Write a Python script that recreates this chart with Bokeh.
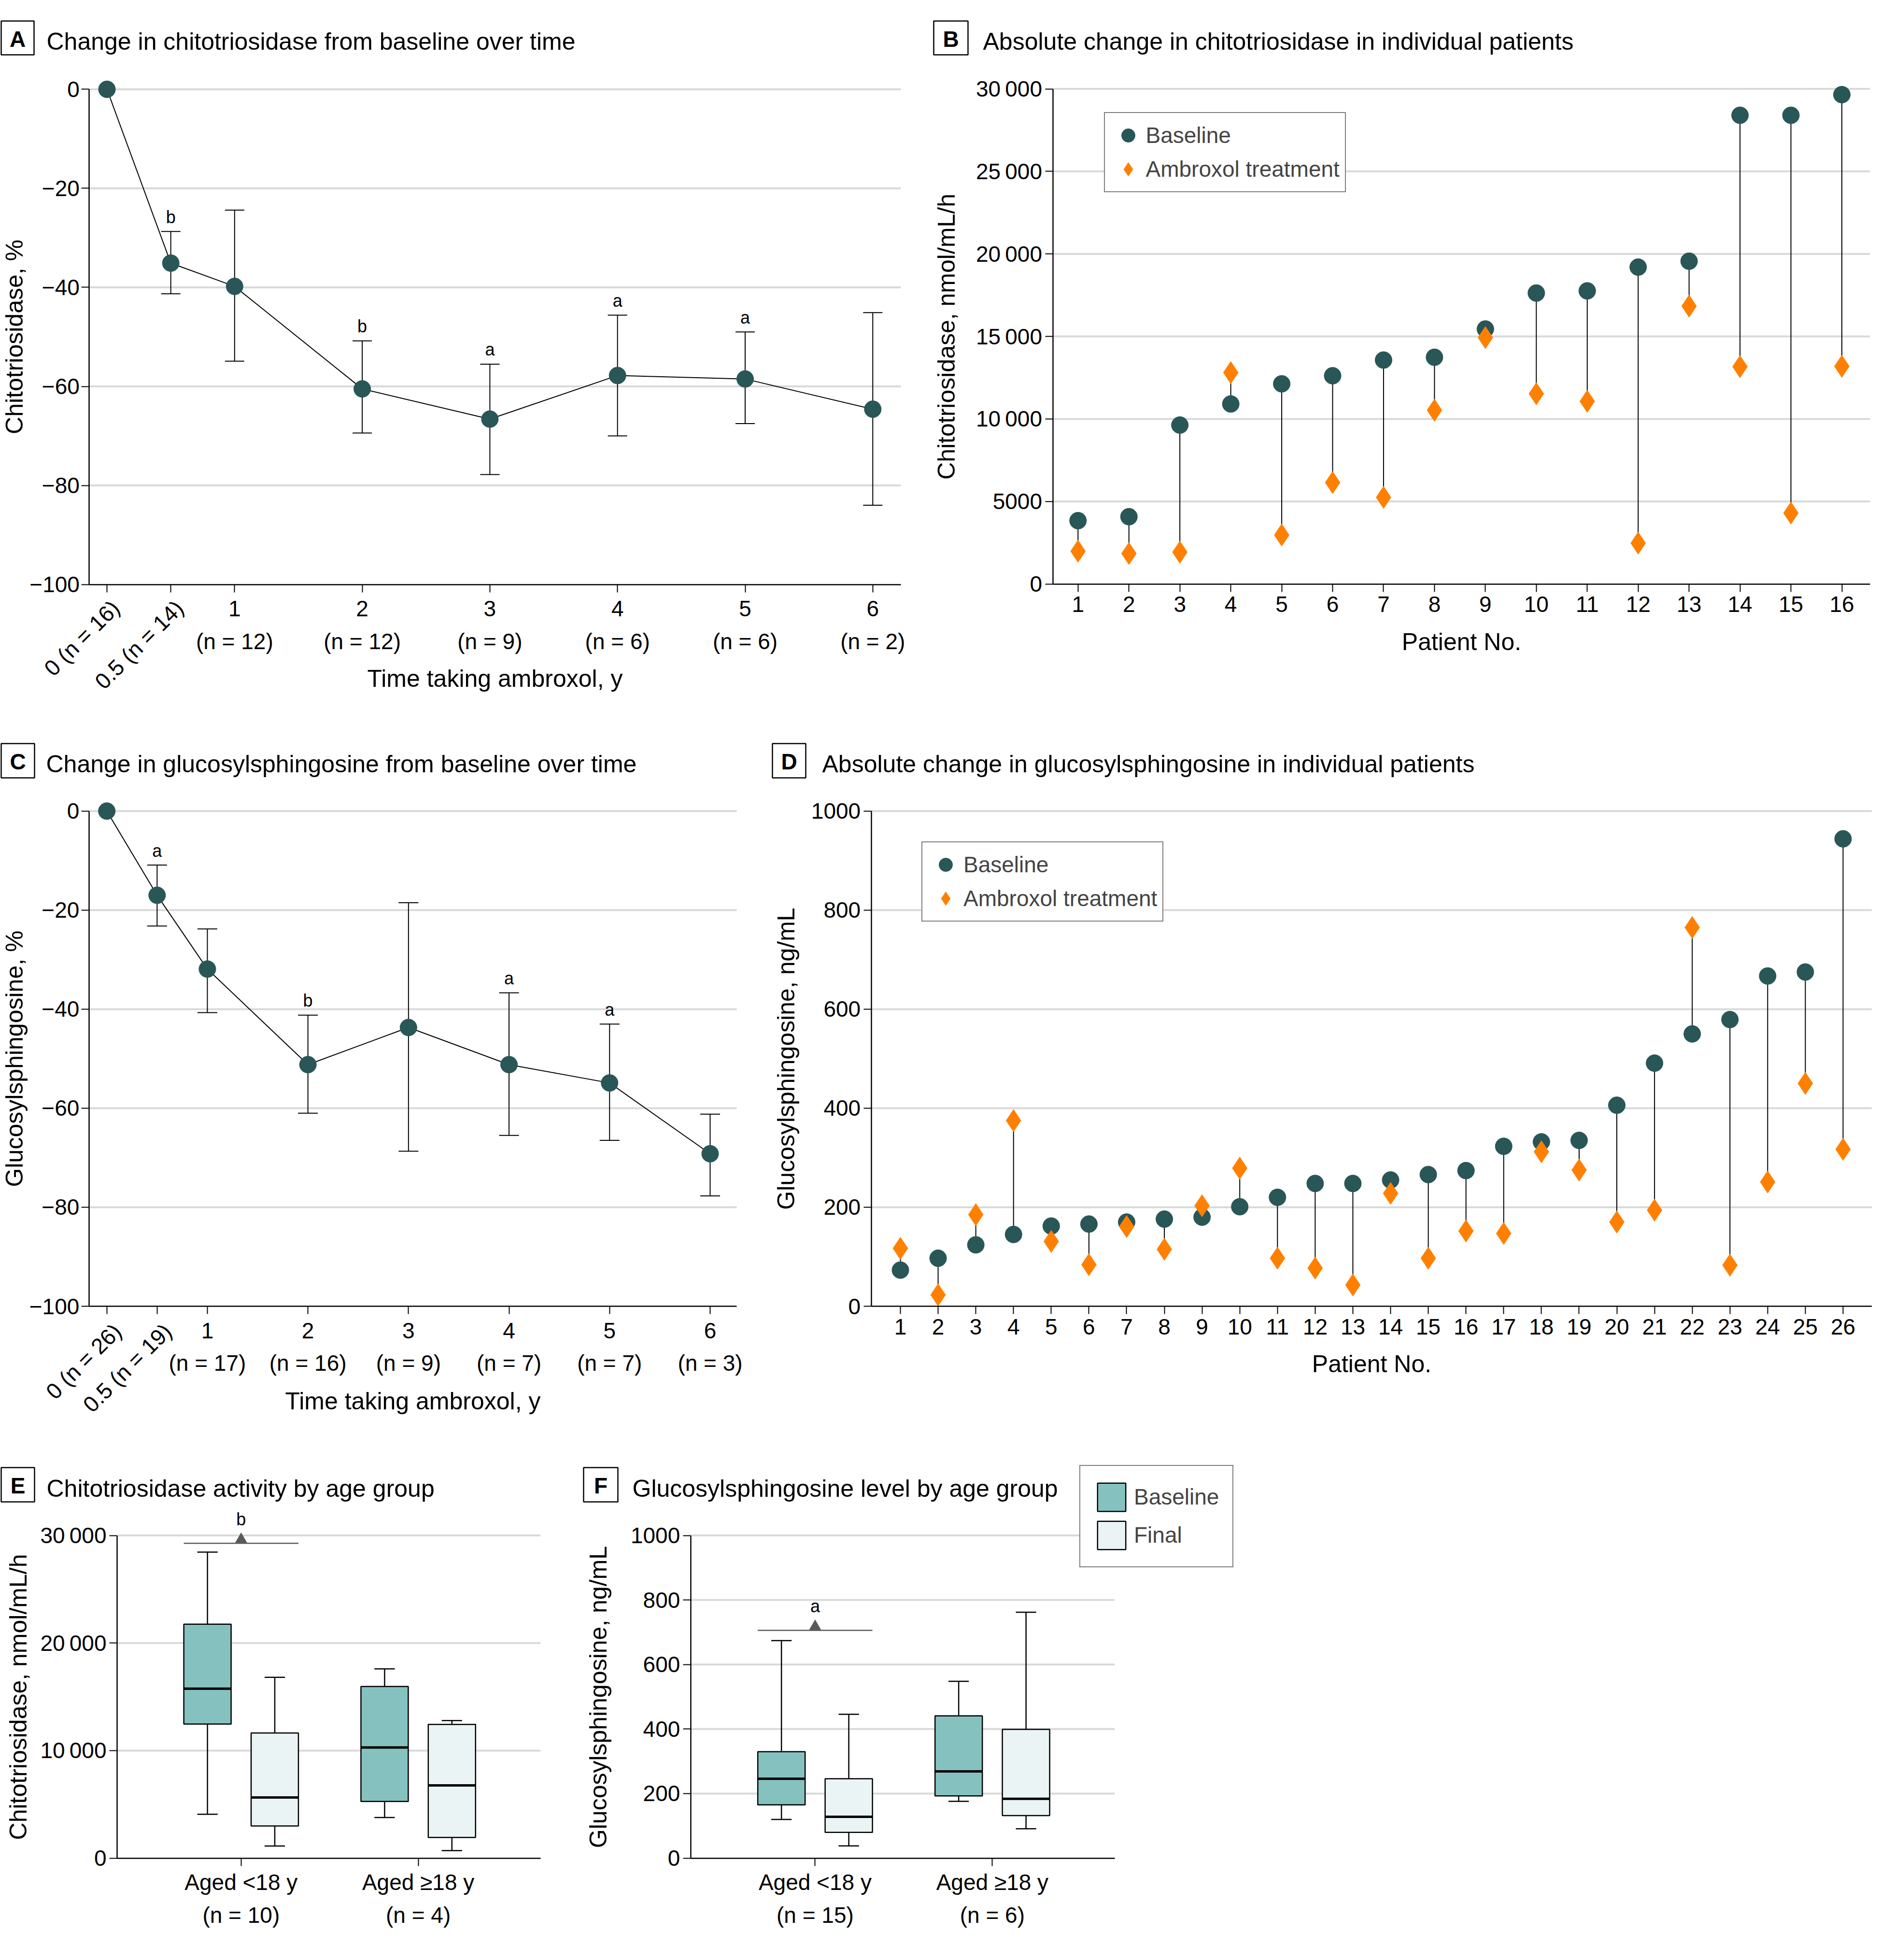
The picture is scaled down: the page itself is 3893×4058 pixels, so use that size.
import math
from bokeh.plotting import figure
from bokeh.models import (FixedTicker, Label, Legend, LegendItem, Range1d, BoxAnnotation)
from bokeh.layouts import column, row
from bokeh.core.properties import value
from bokeh.embed import file_html
from bokeh.resources import INLINE

FONT = "Liberation Sans"
DOT = "#295656"
ORANGE = "#ff8000"
TEAL = "#85c2bf"
PALE = "#eaf4f4"
GRID = "#d9d9d9"
SIGCOL = "#5a5a5a"

# ---------------- data ----------------
# Panel A: change in chitotriosidase (%), mean with error bars
a_time = [0, 0.5, 1, 2, 3, 4, 5, 6]
a_n = [16, 14, 12, 12, 9, 6, 6, 2]
a_pct = [0, -35.1, -39.8, -60.5, -66.6, -57.8, -58.5, -64.6]
a_hi = [0, -28.7, -24.4, -50.8, -55.5, -45.6, -49.0, -45.1]
a_lo = [0, -41.3, -54.9, -69.4, -77.8, -70.0, -67.5, -84.0]
a_sig = ["", "b", "", "b", "a", "a", "a", ""]

# Panel C: change in glucosylsphingosine (%)
c_time = [0, 0.5, 1, 2, 3, 4, 5, 6]
c_n = [26, 19, 17, 16, 9, 7, 7, 3]
c_pct = [0, -17.0, -31.9, -51.2, -43.7, -51.2, -54.9, -69.2]
c_hi = [0, -10.9, -23.8, -41.2, -18.5, -36.7, -43.0, -61.2]
c_lo = [0, -23.2, -40.7, -61.0, -68.7, -65.5, -66.5, -77.7]
c_sig = ["", "a", "", "b", "", "a", "a", ""]

pct_ticks = [0, -20, -40, -60, -80, -100]

# Panel B: chitotriosidase per patient, nmol/mL/h
b_patient = list(range(1, 17))
b_baseline = [3840, 4080, 9630, 10910, 12130, 12620, 13570, 13740,
              15450, 17630, 17760, 19200, 19560, 28400, 28400, 29650]
b_ambroxol = [1990, 1850, 1930, 12810, 2970, 6150, 5250, 10530,
              14930, 11530, 11070, 2480, 16840, 13170, 4300, 13190]
b_ticks = [0, 5000, 10000, 15000, 20000, 25000, 30000]

# Panel D: glucosylsphingosine per patient, ng/mL
d_patient = list(range(1, 27))
d_baseline = [73, 97, 124, 145, 162, 166, 170, 176, 180, 201, 220, 248, 248,
              255, 266, 274, 323, 332, 335, 406, 491, 550, 579, 667, 675, 944]
d_ambroxol = [117, 23, 185, 375, 131, 84, 161, 115, 203, 279, 97, 77, 43,
              228, 97, 152, 147, 312, 275, 170, 194, 765, 83, 251, 450, 317]
d_ticks = [0, 200, 400, 600, 800, 1000]

# Panels E/F: box plots by age group
age_groups = ["Aged <18 y", "Aged \u226518 y"]
group_pos = [1, 2]

e_n = [10, 4]
e_base_min = [4080, 3780]
e_base_q1 = [12460, 5270]
e_base_med = [15750, 10290]
e_base_q3 = [21750, 15960]
e_base_max = [28450, 17600]
e_final_min = [1130, 700]
e_final_q1 = [2990, 1920]
e_final_med = [5640, 6760]
e_final_q3 = [11640, 12430]
e_final_max = [16810, 12790]
e_sig_level = [29270]
e_sig = ["b"]
e_ticks = [0, 10000, 20000, 30000]

f_n = [15, 6]
f_base_min = [120, 176]
f_base_q1 = [165, 193]
f_base_med = [246, 269]
f_base_q3 = [330, 441]
f_base_max = [674, 548]
f_final_min = [38, 91]
f_final_q1 = [80, 132]
f_final_med = [128, 184]
f_final_q3 = [246, 399]
f_final_max = [446, 762]
f_sig_level = [706]
f_sig = ["a"]
f_ticks = [0, 200, 400, 600, 800, 1000]


def thou(v):
    s = str(int(v))
    if len(s) > 4:
        s = s[:-3] + "\u2009" + s[-3:]
    return s


def neg(v):
    return "0" if v == 0 else "\u2212" + str(abs(int(v)))


# ---------------- helpers ----------------
class Geo:
    """Maps page pixels to data values for one panel."""
    def __init__(self, ox, oy, w, h, xcal, ycal):
        self.ox, self.oy, self.w, self.h = ox, oy, w, h
        (xv1, xp1), (xv2, xp2) = xcal
        (yv1, yp1), (yv2, yp2) = ycal
        self.kx = (xv2 - xv1) / (xp2 - xp1)
        self.ky = (yv2 - yv1) / (yp2 - yp1)
        self.xv1, self.xp1, self.yv1, self.yp1 = xv1, xp1, yv1, yp1

    def xv(self, px):
        return self.xv1 + (px - self.xp1) * self.kx

    def yv(self, py):
        return self.yv1 + (py - self.yp1) * self.ky

    def sx(self, px):      # screen x inside the canvas
        return px - self.ox

    def sy(self, py):      # screen y (from bottom) inside the canvas
        return self.oy + self.h - py

    @property
    def pxx(self):
        return abs(1.0 / self.kx)

    @property
    def pxy(self):
        return abs(1.0 / self.ky)


def make_fig(g, axis_x_px, axis_right_px, axis_y_px):
    p = figure(width=g.w, height=g.h, title=None,
               x_range=Range1d(g.xv(g.ox), g.xv(g.ox + g.w)),
               y_range=Range1d(g.yv(g.oy + g.h), g.yv(g.oy)),
               output_backend="svg", toolbar_location=None,
               min_border=0, min_border_left=0, min_border_right=0,
               min_border_top=0, min_border_bottom=0)
    p.outline_line_color = None
    p.background_fill_color = "white"
    p.border_fill_color = "white"
    p.xgrid.visible = False
    p.ygrid.visible = False
    p._g = g
    p._xl = g.xv(axis_x_px)
    p._xr = g.xv(axis_right_px)
    p._yb = g.yv(axis_y_px)
    p.xaxis.fixed_location = p._yb
    p.yaxis.fixed_location = p._xl
    p.xaxis.bounds = (p._xl, p._xr)
    return p


def grid(p, ticks):
    ys = [t for t in ticks if abs(t - p._yb) > 1e-9]
    p.segment(x0=[p._xl] * len(ys), y0=ys, x1=[p._xr] * len(ys), y1=ys,
              line_color=GRID, line_width=4, level="underlay")


def style_axes(p, xticks, xover, yticks, yover, ybounds, xlabel, ylabel,
               ylab_standoff, xlab_standoff, xstandoff=8, ystandoff=6):
    p.xaxis.ticker = FixedTicker(ticks=xticks)
    p.yaxis.ticker = FixedTicker(ticks=yticks)
    if xover:
        p.xaxis.major_label_overrides = xover
    p.yaxis.major_label_overrides = yover
    p.yaxis.bounds = ybounds
    for ax in (p.xaxis[0], p.yaxis[0]):
        ax.axis_line_width = 2.5
        ax.axis_line_color = "black"
        ax.major_tick_line_width = 2
        ax.major_tick_line_color = "black"
        ax.major_tick_out = 16
        ax.major_tick_in = 0
        ax.minor_tick_out = 0
        ax.minor_tick_in = 0
        ax.major_label_text_font = FONT
        ax.major_label_text_font_size = "46px"
        ax.major_label_text_color = "black"
        ax.axis_label_text_font = FONT
        ax.axis_label_text_font_size = "50px"
        ax.axis_label_text_font_style = "normal"
        ax.axis_label_text_color = "black"
    p.xaxis.major_label_text_line_height = 1.3
    p.xaxis.major_label_standoff = xstandoff
    p.yaxis.major_label_standoff = ystandoff
    p.yaxis.axis_label = ylabel
    p.yaxis.axis_label_standoff = ylab_standoff
    if xlabel:
        p.xaxis.axis_label = xlabel
        p.xaxis.axis_label_standoff = xlab_standoff


def add_title(p, letter, text, box, text_pos):
    # box = (left, top, right, bottom) in page pixels
    g = p._g
    l, t, r, b = box
    p.add_layout(BoxAnnotation(left=g.sx(l), right=g.sx(r), top=g.sy(t), bottom=g.sy(b),
                               left_units="screen", right_units="screen",
                               top_units="screen", bottom_units="screen",
                               fill_color="white", fill_alpha=1.0,
                               line_color="black", line_width=2.5, line_alpha=1.0))
    p.add_layout(Label(x=g.sx((l + r) / 2), y=g.sy((t + b) / 2 + 2), x_units="screen", y_units="screen",
                       text=letter, text_font=FONT, text_font_size="46px",
                       text_font_style="bold", text_align="center", text_baseline="middle",
                       text_color="black"))
    p.add_layout(Label(x=g.sx(text_pos[0]), y=g.sy(text_pos[1]), x_units="screen", y_units="screen",
                       text=text, text_font=FONT, text_font_size="50px",
                       text_align="left", text_baseline="middle", text_color="black"))


def time_panel(p, t, n, pct, hi, lo, sig, cap_px, rot_off, axis_y_px):
    g = p._g
    cap = cap_px / g.pxx
    xs, his, los = t[1:], hi[1:], lo[1:]
    p.segment(x0=xs, y0=los, x1=xs, y1=his, line_color="black", line_width=2)
    p.segment(x0=[x - cap / 2 for x in xs], y0=his, x1=[x + cap / 2 for x in xs], y1=his,
              line_color="black", line_width=2)
    p.segment(x0=[x - cap / 2 for x in xs], y0=los, x1=[x + cap / 2 for x in xs], y1=los,
              line_color="black", line_width=2)
    p.line(t, pct, line_color="black", line_width=2)
    p.scatter(t, pct, marker="circle", size=35, fill_color=DOT, line_color=DOT)
    off = 30.0 / g.pxy
    sx = [t[i] for i in range(len(t)) if sig[i]]
    sy = [hi[i] + off for i in range(len(t)) if sig[i]]
    st = [s for s in sig if s]
    p.text(x=sx, y=sy, text=st, text_font=value(FONT), text_font_size=value("36px"),
           text_align="center", text_baseline="middle", text_color="black")
    over = {}
    for i, tv in enumerate(t):
        if i < 2:
            over[tv] = ""
            p.add_layout(Label(x=tv, y=g.sy(axis_y_px + rot_off[1]), x_units="data", y_units="screen",
                               x_offset=rot_off[0], text="%s (n = %d)" % (str(tv), n[i]),
                               angle=math.pi / 4, text_align="right", text_baseline="middle",
                               text_font=FONT, text_font_size="46px", text_color="black"))
        else:
            over[tv] = "%d\n(n = %d)" % (int(tv), n[i])
    return over


def legend(p, items, page_left, page_bottom, gw, gh, spacing, padding, standoff):
    g = p._g
    leg = Legend(items=[LegendItem(label=lab, renderers=[r]) for lab, r in items],
                 location=(g.sx(page_left), g.sy(page_bottom)), orientation="vertical",
                 glyph_width=gw, glyph_height=gh, spacing=spacing, padding=padding, margin=0,
                 label_standoff=standoff, label_text_font=FONT, label_text_font_size="46px",
                 border_line_color="black", border_line_width=2,
                 background_fill_color="white", background_fill_alpha=1.0)
    p.add_layout(leg)


def patient_panel(p, pts, base, amb, leg_left, leg_bottom):
    p.segment(x0=pts, y0=base, x1=pts, y1=amb, line_color="black", line_width=2)
    rb = p.scatter(pts, base, marker="circle", size=35, fill_color=DOT, line_color=DOT)
    ra = p.scatter(pts, amb, marker="diamond", size=46, fill_color=ORANGE, line_color=ORANGE)
    legend(p, [("Baseline", rb), ("Ambroxol treatment", ra)], leg_left, leg_bottom,
           74, 70, 0, 11, 0)


BOX_W = 0.267
BOX_OFF = 0.19
CAP_W = 0.115


def boxes(p, vmin, q1, med, q3, vmax, offset, color):
    xs = [gp + offset for gp in group_pos]
    p.segment(x0=xs, y0=q3, x1=xs, y1=vmax, line_color="black", line_width=2.5)
    p.segment(x0=xs, y0=q1, x1=xs, y1=vmin, line_color="black", line_width=2.5)
    p.segment(x0=[x - CAP_W / 2 for x in xs], y0=vmax, x1=[x + CAP_W / 2 for x in xs], y1=vmax,
              line_color="black", line_width=2.5)
    p.segment(x0=[x - CAP_W / 2 for x in xs], y0=vmin, x1=[x + CAP_W / 2 for x in xs], y1=vmin,
              line_color="black", line_width=2.5)
    r = p.vbar(x=xs, width=BOX_W, top=q3, bottom=q1, fill_color=color,
               line_color="black", line_width=2.5)
    p.segment(x0=[x - BOX_W / 2 for x in xs], y0=med, x1=[x + BOX_W / 2 for x in xs], y1=med,
              line_color="black", line_width=5)
    return r


def sig_bracket(p, level, letter):
    g = p._g
    x0 = group_pos[0] - BOX_OFF - BOX_W / 2
    x1 = group_pos[0] + BOX_OFF + BOX_W / 2
    p.segment(x0=[x0], y0=level, x1=[x1], y1=level, line_color=SIGCOL, line_width=2.5)
    p.scatter([group_pos[0]], [level[0] + 7.2 / g.pxy], marker="triangle", size=25,
              fill_color=SIGCOL, line_color=SIGCOL)
    p.text(x=[group_pos[0]], y=[level[0] + 50.0 / g.pxy], text=letter,
           text_font=value(FONT), text_font_size=value("36px"),
           text_align="center", text_baseline="middle", text_color="black")


# ---------------- Panel A ----------------
gA = Geo(8, 8, 1892, 1492, ((0, 229.0), (6, 1814.8)), ((0, 192.4), (-100, 1217.6)))
pA = make_fig(gA, 192.4, 1873, 1217.6)
grid(pA, pct_ticks)
overA = time_panel(pA, a_time, a_n, a_pct, a_hi, a_lo, a_sig, 40, (18, 41), 1217.6)
style_axes(pA, a_time, overA, pct_ticks, {v: neg(v) for v in pct_ticks}, (-100, 0),
           "Time taking ambroxol, y", "Chitotriosidase, %", 0, 20, ystandoff=4)
add_title(pA, "A", "Change in chitotriosidase from baseline over time", (10, 51, 78, 121), (104, 93))

# ---------------- Panel B ----------------
gB = Geo(1900, 8, 1984, 1492, ((1, 2239.8), (16, 3821.5)), ((30000, 191.5), (0, 1216.7)))
pB = make_fig(gB, 2187.5, 3880, 1216.7)
grid(pB, b_ticks)
patient_panel(pB, b_patient, b_baseline, b_ambroxol, 2293.5, 406)
style_axes(pB, b_patient, None, b_ticks, {v: thou(v) for v in b_ticks}, (0, 30000),
           "Patient No.", "Chitotriosidase, nmol/mL/h", 30, 30, xstandoff=10)
add_title(pB, "B", "Absolute change in chitotriosidase in individual patients", (1941, 51, 2012, 121), (2043, 93))

# ---------------- Panel C ----------------
gC = Geo(8, 1500, 1582, 1460, ((0, 228.7), (6, 1478.0)), ((0, 1686.8), (-100, 2712.0)))
pC = make_fig(gC, 191.8, 1533, 2712.0)
grid(pC, pct_ticks)
overC = time_panel(pC, c_time, c_n, c_pct, c_hi, c_lo, c_sig, 41, (22, 44), 2712.0)
style_axes(pC, c_time, overC, pct_ticks, {v: neg(v) for v in pct_ticks}, (-100, 0),
           "Time taking ambroxol, y", "Glucosylsphingosine, %", 0, 22, ystandoff=4)
add_title(pC, "C", "Change in glucosylsphingosine from baseline over time", (10, 1547, 79, 1618), (103, 1589))

# ---------------- Panel D ----------------
gD = Geo(1590, 1500, 2294, 1460, ((1, 1872.0), (26, 3824.0)), ((1000, 1686.8), (0, 2712.0)))
pD = make_fig(gD, 1811.7, 3884, 2712.0)
grid(pD, d_ticks)
patient_panel(pD, d_patient, d_baseline, d_ambroxol, 1916, 1915.5)
style_axes(pD, d_patient, None, d_ticks, {v: str(v) for v in d_ticks}, (0, 1000),
           "Patient No.", "Glucosylsphingosine, ng/mL", 21, 30, xstandoff=10)
add_title(pD, "D", "Absolute change in glucosylsphingosine in individual patients", (1607, 1547, 1676, 1618), (1710, 1589))

# ---------------- Panel E ----------------
gE = Geo(8, 2960, 1192, 1080, ((1, 506.8), (2, 873.6)), ((30000, 3186.5), (0, 3854.6)))
pE = make_fig(gE, 250, 1126.7, 3854.6)
grid(pE, e_ticks)
boxes(pE, e_base_min, e_base_q1, e_base_med, e_base_q3, e_base_max, -BOX_OFF, TEAL)
boxes(pE, e_final_min, e_final_q1, e_final_med, e_final_q3, e_final_max, BOX_OFF, PALE)
sig_bracket(pE, e_sig_level, e_sig)
style_axes(pE, group_pos, {gp: "%s\n(n = %d)" % (age_groups[i], e_n[i]) for i, gp in enumerate(group_pos)},
           e_ticks, {v: thou(v) for v in e_ticks}, (0, 30000),
           None, "Chitotriosidase, nmol/mL/h", 14, 0)
add_title(pE, "E", "Chitotriosidase activity by age group", (10, 3046, 79, 3117), (104, 3089))

# ---------------- Panel F ----------------
gF = Geo(1200, 2960, 1500, 1080, ((1, 1695.4), (2, 2062.4)), ((1000, 3186.5), (0, 3854.6)))
pF = make_fig(gF, 1437.8, 2315.5, 3854.6)
grid(pF, f_ticks)
rfb = boxes(pF, f_base_min, f_base_q1, f_base_med, f_base_q3, f_base_max, -BOX_OFF, TEAL)
rff = boxes(pF, f_final_min, f_final_q1, f_final_med, f_final_q3, f_final_max, BOX_OFF, PALE)
sig_bracket(pF, f_sig_level, f_sig)
style_axes(pF, group_pos, {gp: "%s\n(n = %d)" % (age_groups[i], f_n[i]) for i, gp in enumerate(group_pos)},
           f_ticks, {v: str(v) for v in f_ticks}, (0, 1000),
           None, "Glucosylsphingosine, ng/mL", 36, 0)
add_title(pF, "F", "Glucosylsphingosine level by age group", (1216, 3046, 1287, 3117), (1317, 3089))
legend(pF, [("Baseline", rfb), ("Final", rff)], 2243, 3252.7, 73, 73, 6, 28, 10)

layout = column(row(pA, pB), row(pC, pD), row(pE, pF))
open("out.html", "w").write(file_html(layout, INLINE, title="Ambroxol biomarkers"))
